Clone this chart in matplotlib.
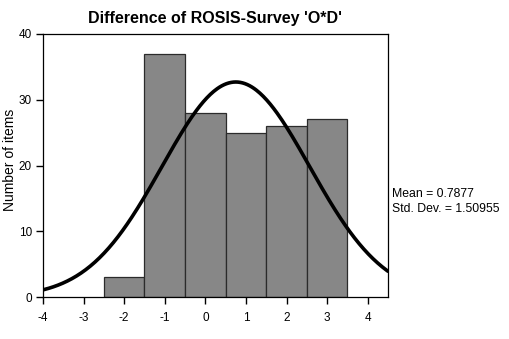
import numpy as np
import matplotlib
matplotlib.use("Agg")
import matplotlib.pyplot as plt

plt.rcParams["font.family"] = ["Liberation Sans", "DejaVu Sans"]
plt.rcParams["axes.unicode_minus"] = False

# histogram bins (centre of each bin) and counts
bin_centres = [-2, -1, 0, 1, 2, 3]
counts = [3, 37, 28, 25, 26, 27]
bin_width = 1.0

# statistics printed on the chart
mean_txt = "0.7877"
sd_txt = "1.50955"

# fitted curve as drawn
curve_mean = 0.75
curve_sd = 1.82
curve_peak = 32.7

BAR = "#878787"
EDGE = "#2b2b2b"

fig = plt.figure(figsize=(5.10, 3.39), dpi=100)
ax = fig.add_axes([43 / 510, 1 - 297 / 339, (388 - 43) / 510, (297 - 34) / 339])

ax.bar(bin_centres, counts, width=bin_width, color=BAR, edgecolor=EDGE, linewidth=0.9)

xs = np.linspace(-4, 4.5, 300)
ys = curve_peak * np.exp(-0.5 * ((xs - curve_mean) / curve_sd) ** 2)
ax.plot(xs, ys, color="black", lw=2.6, solid_capstyle="round")

ax.set_xlim(-4, 4.5)
ax.set_ylim(0, 40)
ax.set_xticks(range(-4, 5))
ax.set_yticks(range(0, 41, 10))
ax.tick_params(direction="out", length=5, width=1, labelsize=8.5, pad=3, colors="black")
ax.tick_params(axis="x", pad=6)
for s in ax.spines.values():
    s.set_linewidth(0.9)
    s.set_color("black")

ax.set_title("Difference of ROSIS-Survey 'O*D'", fontsize=11.5, fontweight="bold", pad=8)
fig.text(10 / 510, 1 - 160 / 339, "Number of items", fontsize=10,
         rotation=90, ha="center", va="center")

fig.text(392 / 510, 1 - 194 / 339, f"Mean = {mean_txt}", fontsize=8.8, va="center")
fig.text(392 / 510, 1 - 209 / 339, f"Std. Dev. = {sd_txt}", fontsize=8.8, va="center")

fig.savefig("out.png", dpi=100)
